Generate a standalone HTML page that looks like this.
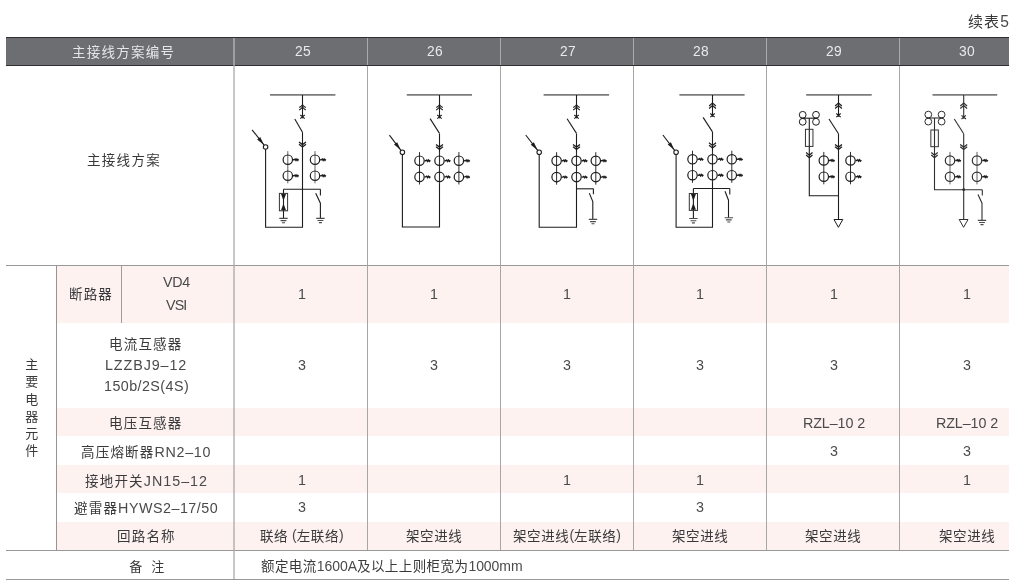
<!DOCTYPE html>
<html lang="zh-CN"><head><meta charset="utf-8"><title>续表5 主接线方案</title>
<style>
html,body{margin:0;padding:0;background:#fff}
body{box-sizing:border-box;width:1014px;height:581px;padding:37px 0 0 6px;position:relative;overflow:hidden;font-family:"Liberation Sans","Noto Sans CJK SC",sans-serif;color:#414042}
table{width:1003px;margin:0;border-collapse:collapse;table-layout:fixed;border-spacing:0}
td,th{padding:0;border:0;font-weight:normal}
tr.hdr th{background:#6d6e71;box-shadow:inset 0 1px 0 #2f2f31, inset 0 -1px 0 #2f2f31}
td.p{background:#fdf2f0}
.t{position:absolute;white-space:nowrap;line-height:16px;height:16px;font-size:14.3px;color:#4a4a4c;will-change:transform}
.t.w{color:#e9e9eb}
.g{display:inline-block;overflow:visible;color:#39393b;font-size:13.5px;white-space:nowrap;font-family:"Liberation Sans","Noto Sans CJK SC",sans-serif}
.c{position:relative}
.t.v{line-height:0}
.t.w .g{color:#e6e6e8}
.dg{position:absolute;overflow:visible}
.ln{position:absolute;background:#989899}
.lv{position:absolute;background:#a6a6a8;width:1px}
caption{display:none}
</style></head><body>
<span class="t cap" style="left:967.60px;top:14.00px"><span class="c"><span class="g" style="width:32.2px;font-size:15px;letter-spacing:1.1px">续表</span></span><span style="font-size:15.6px;letter-spacing:0.0px">5</span></span><table><colgroup><col style="width:51px"><col style="width:65px"><col style="width:112px"><col style="width:133px"><col style="width:133px"><col style="width:133px"><col style="width:133px"><col style="width:133px"><col style="width:110px"></colgroup>
<tr class="hdr" style="height:29px"><th colspan="3"><span class="t w" style="left:72.00px;top:43.70px"><span class="c"><span class="g" style="width:103.25px;letter-spacing:1.25px">主接线方案编号</span></span></span></th><th><span class="t w" style="left:294.63px;top:43.20px"><span style="font-size:13.8px;letter-spacing:0.3px">25</span></span></th><th><span class="t w" style="left:426.53px;top:43.20px"><span style="font-size:13.8px;letter-spacing:0.3px">26</span></span></th><th><span class="t w" style="left:559.63px;top:43.20px"><span style="font-size:13.8px;letter-spacing:0.3px">27</span></span></th><th><span class="t w" style="left:692.53px;top:43.20px"><span style="font-size:13.8px;letter-spacing:0.3px">28</span></span></th><th><span class="t w" style="left:825.93px;top:43.20px"><span style="font-size:13.8px;letter-spacing:0.3px">29</span></span></th><th><span class="t w" style="left:959.23px;top:43.20px"><span style="font-size:13.8px;letter-spacing:0.3px">30</span></span></th></tr>
<tr class="dia" style="height:200px"><td colspan="3"><span class="t" style="left:86.90px;top:152.10px"><span class="c"><span class="g" style="width:74px;letter-spacing:1.3px">主接线方案</span></span></span></td><td><svg class="dg" style="left:234px;top:66px" width="133" height="199" viewBox="234 66 133 199" role="img" aria-label="主接线方案 25"><path d="M270 94.8H335.4" stroke="#7c7c7e" stroke-width="1.7" fill="none" /><path d="M302.5 95V118.3" stroke="#1d1d1f" stroke-width="1.1" fill="none" /><path d="M299.2 107.5Q301.3 106.39999999999999 302.5 104.8Q303.7 106.39999999999999 305.8 107.5M299.2 109.89999999999999Q301.3 108.8 302.5 107.2Q303.7 108.8 305.8 109.89999999999999" stroke="#1d1d1f" stroke-width="1.15" fill="none" /><path d="M300.3 115.0L304.7 118.6M304.7 115.0L300.3 118.6" stroke="#1d1d1f" stroke-width="1.15" fill="none" /><path d="M294.8 118.9L302.5 132.3" stroke="#1d1d1f" stroke-width="1.1" fill="none" /><path d="M299.0 141.9L302.5 144.6L306.0 141.9M299.0 144.3L302.5 147.0L306.0 144.3" stroke="#1d1d1f" stroke-width="1.25" fill="none" /><path d="M302.5 132.3V227.2H265.6V149.1" stroke="#1d1d1f" stroke-width="1.1" fill="none" /><path d="M252.1 129.8L264.30 145.35" stroke="#1d1d1f" stroke-width="1.1" fill="none" /><path d="M263.81 144.72L257.11 139.42L260.26 136.95Z" fill="#1d1d1f"/><circle cx="265.6" cy="147.0" r="2.25" stroke="#1d1d1f" stroke-width="1.1" fill="#fff"/><path d="M287.8 151.1V183.29999999999998" stroke="#626264" stroke-width="1.0" fill="none" /><circle cx="287.8" cy="159.7" r="4.7" stroke="#1d1d1f" stroke-width="1.2" fill="none"/><path d="M293.0 159.7h1.2l0.9 -0.7l0.9 1.4l0.9 -1.4l0.9 1.3l0.8 -1" stroke="#1d1d1f" stroke-width="1.4" fill="none" /><circle cx="287.8" cy="175.7" r="4.7" stroke="#1d1d1f" stroke-width="1.2" fill="none"/><path d="M293.0 175.7h1.2l0.9 -0.7l0.9 1.4l0.9 -1.4l0.9 1.3l0.8 -1" stroke="#1d1d1f" stroke-width="1.4" fill="none" /><path d="M315.0 151.1V183.29999999999998" stroke="#626264" stroke-width="1.0" fill="none" /><circle cx="315.0" cy="159.7" r="4.7" stroke="#1d1d1f" stroke-width="1.2" fill="none"/><path d="M320.2 159.7h1.2l0.9 -0.7l0.9 1.4l0.9 -1.4l0.9 1.3l0.8 -1" stroke="#1d1d1f" stroke-width="1.4" fill="none" /><circle cx="315.0" cy="175.7" r="4.7" stroke="#1d1d1f" stroke-width="1.2" fill="none"/><path d="M320.2 175.7h1.2l0.9 -0.7l0.9 1.4l0.9 -1.4l0.9 1.3l0.8 -1" stroke="#1d1d1f" stroke-width="1.4" fill="none" /><path d="M283.5 189.2H320.5" stroke="#1d1d1f" stroke-width="1.1" fill="none" /><path d="M283.5 189.2V218.4" stroke="#1d1d1f" stroke-width="1.1" fill="none" /><rect x="279.4" y="193.4" width="8.2" height="17.4" stroke="#333" stroke-width="1" fill="none"/><path d="M281.0 194.0H286.0L283.5 200.8ZM281.0 210.20000000000002H286.0L283.5 203.4Z" fill="#1d1d1f"/><path d="M279.3 218.4H287.7M280.6 220.6H286.4M282.0 222.70000000000002H285.0" stroke="#4a4a4c" stroke-width="1.15" fill="none" /><path d="M320.4 189.2V195.5" stroke="#1d1d1f" stroke-width="1.1" fill="none" /><path d="M315.7 193.3L320.4 203.2V218.3" stroke="#1d1d1f" stroke-width="1.1" fill="none" /><path d="M316.2 218.3H324.59999999999997M317.5 220.5H323.29999999999995M318.9 222.60000000000002H321.9" stroke="#4a4a4c" stroke-width="1.15" fill="none" /></svg></td><td><svg class="dg" style="left:367px;top:66px" width="133" height="199" viewBox="367 66 133 199" role="img" aria-label="主接线方案 26"><path d="M406.8 94.8H472" stroke="#7c7c7e" stroke-width="1.7" fill="none" /><path d="M439.5 95V118.3" stroke="#1d1d1f" stroke-width="1.1" fill="none" /><path d="M436.2 107.5Q438.3 106.39999999999999 439.5 104.8Q440.7 106.39999999999999 442.8 107.5M436.2 109.89999999999999Q438.3 108.8 439.5 107.2Q440.7 108.8 442.8 109.89999999999999" stroke="#1d1d1f" stroke-width="1.15" fill="none" /><path d="M437.3 115.0L441.7 118.6M441.7 115.0L437.3 118.6" stroke="#1d1d1f" stroke-width="1.15" fill="none" /><path d="M430.1 118.6L439.5 133.4" stroke="#1d1d1f" stroke-width="1.1" fill="none" /><path d="M436.0 144.4L439.5 147.1L443.0 144.4M436.0 146.8L439.5 149.5L443.0 146.8" stroke="#1d1d1f" stroke-width="1.25" fill="none" /><path d="M439.5 133.4V227H402.4V154.4" stroke="#1d1d1f" stroke-width="1.1" fill="none" /><path d="M389.4 135.2L401.13 150.63" stroke="#1d1d1f" stroke-width="1.1" fill="none" /><path d="M400.64 149.99L394.03 144.59L397.21 142.17Z" fill="#1d1d1f"/><circle cx="402.4" cy="152.3" r="2.25" stroke="#1d1d1f" stroke-width="1.1" fill="#fff"/><path d="M419.5 152.1V184.5" stroke="#2e2e30" stroke-width="1.0" fill="none" /><circle cx="419.5" cy="160.7" r="4.7" stroke="#1d1d1f" stroke-width="1.2" fill="none"/><path d="M424.7 160.7h1.2l0.9 -0.7l0.9 1.4l0.9 -1.4l0.9 1.3l0.8 -1" stroke="#1d1d1f" stroke-width="1.4" fill="none" /><circle cx="419.5" cy="176.9" r="4.7" stroke="#1d1d1f" stroke-width="1.2" fill="none"/><path d="M424.7 176.9h1.2l0.9 -0.7l0.9 1.4l0.9 -1.4l0.9 1.3l0.8 -1" stroke="#1d1d1f" stroke-width="1.4" fill="none" /><path d="M439.5 152.1V184.5" stroke="#2e2e30" stroke-width="1.0" fill="none" /><circle cx="439.5" cy="160.7" r="4.7" stroke="#1d1d1f" stroke-width="1.2" fill="none"/><path d="M444.7 160.7h1.2l0.9 -0.7l0.9 1.4l0.9 -1.4l0.9 1.3l0.8 -1" stroke="#1d1d1f" stroke-width="1.4" fill="none" /><circle cx="439.5" cy="176.9" r="4.7" stroke="#1d1d1f" stroke-width="1.2" fill="none"/><path d="M444.7 176.9h1.2l0.9 -0.7l0.9 1.4l0.9 -1.4l0.9 1.3l0.8 -1" stroke="#1d1d1f" stroke-width="1.4" fill="none" /><path d="M458.9 152.1V184.5" stroke="#2e2e30" stroke-width="1.0" fill="none" /><circle cx="458.9" cy="160.7" r="4.7" stroke="#1d1d1f" stroke-width="1.2" fill="none"/><path d="M464.09999999999997 160.7h1.2l0.9 -0.7l0.9 1.4l0.9 -1.4l0.9 1.3l0.8 -1" stroke="#1d1d1f" stroke-width="1.4" fill="none" /><circle cx="458.9" cy="176.9" r="4.7" stroke="#1d1d1f" stroke-width="1.2" fill="none"/><path d="M464.09999999999997 176.9h1.2l0.9 -0.7l0.9 1.4l0.9 -1.4l0.9 1.3l0.8 -1" stroke="#1d1d1f" stroke-width="1.4" fill="none" /></svg></td><td><svg class="dg" style="left:500px;top:66px" width="133" height="199" viewBox="500 66 133 199" role="img" aria-label="主接线方案 27"><path d="M543.6 94.8H609.1" stroke="#7c7c7e" stroke-width="1.7" fill="none" /><path d="M576.5 95V118.3" stroke="#1d1d1f" stroke-width="1.1" fill="none" /><path d="M573.2 107.5Q575.3 106.39999999999999 576.5 104.8Q577.7 106.39999999999999 579.8 107.5M573.2 109.89999999999999Q575.3 108.8 576.5 107.2Q577.7 108.8 579.8 109.89999999999999" stroke="#1d1d1f" stroke-width="1.15" fill="none" /><path d="M574.3 115.0L578.7 118.6M578.7 115.0L574.3 118.6" stroke="#1d1d1f" stroke-width="1.15" fill="none" /><path d="M567.1 118.8L576.5 133.4" stroke="#1d1d1f" stroke-width="1.1" fill="none" /><path d="M573.0 144.4L576.5 147.1L580.0 144.4M573.0 146.8L576.5 149.5L580.0 146.8" stroke="#1d1d1f" stroke-width="1.25" fill="none" /><path d="M576.5 133.4V227.2H539.2V154.4" stroke="#1d1d1f" stroke-width="1.1" fill="none" /><path d="M525.7 135.0L537.91 150.64" stroke="#1d1d1f" stroke-width="1.1" fill="none" /><path d="M537.42 150.01L530.73 144.70L533.89 142.24Z" fill="#1d1d1f"/><circle cx="539.2" cy="152.3" r="2.25" stroke="#1d1d1f" stroke-width="1.1" fill="#fff"/><path d="M556.6 152.20000000000002V184.7" stroke="#2e2e30" stroke-width="1.0" fill="none" /><circle cx="556.6" cy="160.8" r="4.7" stroke="#1d1d1f" stroke-width="1.2" fill="none"/><path d="M561.8000000000001 160.8h1.2l0.9 -0.7l0.9 1.4l0.9 -1.4l0.9 1.3l0.8 -1" stroke="#1d1d1f" stroke-width="1.4" fill="none" /><circle cx="556.6" cy="177.1" r="4.7" stroke="#1d1d1f" stroke-width="1.2" fill="none"/><path d="M561.8000000000001 177.1h1.2l0.9 -0.7l0.9 1.4l0.9 -1.4l0.9 1.3l0.8 -1" stroke="#1d1d1f" stroke-width="1.4" fill="none" /><path d="M576.5 152.20000000000002V184.7" stroke="#2e2e30" stroke-width="1.0" fill="none" /><circle cx="576.5" cy="160.8" r="4.7" stroke="#1d1d1f" stroke-width="1.2" fill="none"/><path d="M581.7 160.8h1.2l0.9 -0.7l0.9 1.4l0.9 -1.4l0.9 1.3l0.8 -1" stroke="#1d1d1f" stroke-width="1.4" fill="none" /><circle cx="576.5" cy="177.1" r="4.7" stroke="#1d1d1f" stroke-width="1.2" fill="none"/><path d="M581.7 177.1h1.2l0.9 -0.7l0.9 1.4l0.9 -1.4l0.9 1.3l0.8 -1" stroke="#1d1d1f" stroke-width="1.4" fill="none" /><path d="M595.8 152.20000000000002V184.7" stroke="#2e2e30" stroke-width="1.0" fill="none" /><circle cx="595.8" cy="160.8" r="4.7" stroke="#1d1d1f" stroke-width="1.2" fill="none"/><path d="M601.0 160.8h1.2l0.9 -0.7l0.9 1.4l0.9 -1.4l0.9 1.3l0.8 -1" stroke="#1d1d1f" stroke-width="1.4" fill="none" /><circle cx="595.8" cy="177.1" r="4.7" stroke="#1d1d1f" stroke-width="1.2" fill="none"/><path d="M601.0 177.1h1.2l0.9 -0.7l0.9 1.4l0.9 -1.4l0.9 1.3l0.8 -1" stroke="#1d1d1f" stroke-width="1.4" fill="none" /><path d="M576.5 188.8H593.5" stroke="#1d1d1f" stroke-width="1.1" fill="none" /><path d="M593.4 188.8V194.2" stroke="#1d1d1f" stroke-width="1.1" fill="none" /><path d="M589.3 193.1L592.8 201.5V219.4" stroke="#1d1d1f" stroke-width="1.1" fill="none" /><path d="M588.8 219.4H597.2M590.1 221.6H595.9M591.5 223.70000000000002H594.5" stroke="#4a4a4c" stroke-width="1.15" fill="none" /></svg></td><td><svg class="dg" style="left:633px;top:66px" width="133" height="199" viewBox="633 66 133 199" role="img" aria-label="主接线方案 28"><path d="M679.4 94.8H744.6" stroke="#7c7c7e" stroke-width="1.7" fill="none" /><path d="M712.5 95V116.8" stroke="#1d1d1f" stroke-width="1.1" fill="none" /><path d="M709.1 106.0L712.5 103.0L715.9 106.0M709.1 108.5L712.5 105.5L715.9 108.5" stroke="#1d1d1f" stroke-width="1.15" fill="none" /><path d="M710.3 113.5L714.7 117.1M714.7 113.5L710.3 117.1" stroke="#1d1d1f" stroke-width="1.15" fill="none" /><path d="M703.1 117.4L712.5 131.9" stroke="#1d1d1f" stroke-width="1.1" fill="none" /><path d="M709.0 142.8L712.5 145.5L716.0 142.8M709.0 145.20000000000002L712.5 147.9L716.0 145.20000000000002" stroke="#1d1d1f" stroke-width="1.25" fill="none" /><path d="M712.5 131.9V227.2H676.1V154.4" stroke="#1d1d1f" stroke-width="1.1" fill="none" /><path d="M662.9 135.0L674.83 150.63" stroke="#1d1d1f" stroke-width="1.1" fill="none" /><path d="M674.34 149.99L667.72 144.61L670.90 142.18Z" fill="#1d1d1f"/><circle cx="676.1" cy="152.3" r="2.25" stroke="#1d1d1f" stroke-width="1.1" fill="#fff"/><path d="M692.5 150.70000000000002V182.79999999999998" stroke="#2e2e30" stroke-width="1.0" fill="none" /><circle cx="692.5" cy="159.3" r="4.7" stroke="#1d1d1f" stroke-width="1.2" fill="none"/><path d="M697.7 159.3h1.2l0.9 -0.7l0.9 1.4l0.9 -1.4l0.9 1.3l0.8 -1" stroke="#1d1d1f" stroke-width="1.4" fill="none" /><circle cx="692.5" cy="175.2" r="4.7" stroke="#1d1d1f" stroke-width="1.2" fill="none"/><path d="M697.7 175.2h1.2l0.9 -0.7l0.9 1.4l0.9 -1.4l0.9 1.3l0.8 -1" stroke="#1d1d1f" stroke-width="1.4" fill="none" /><path d="M712.5 150.70000000000002V182.79999999999998" stroke="#2e2e30" stroke-width="1.0" fill="none" /><circle cx="712.5" cy="159.3" r="4.7" stroke="#1d1d1f" stroke-width="1.2" fill="none"/><path d="M717.7 159.3h1.2l0.9 -0.7l0.9 1.4l0.9 -1.4l0.9 1.3l0.8 -1" stroke="#1d1d1f" stroke-width="1.4" fill="none" /><circle cx="712.5" cy="175.2" r="4.7" stroke="#1d1d1f" stroke-width="1.2" fill="none"/><path d="M717.7 175.2h1.2l0.9 -0.7l0.9 1.4l0.9 -1.4l0.9 1.3l0.8 -1" stroke="#1d1d1f" stroke-width="1.4" fill="none" /><path d="M731.8 150.70000000000002V182.79999999999998" stroke="#2e2e30" stroke-width="1.0" fill="none" /><circle cx="731.8" cy="159.3" r="4.7" stroke="#1d1d1f" stroke-width="1.2" fill="none"/><path d="M737.0 159.3h1.2l0.9 -0.7l0.9 1.4l0.9 -1.4l0.9 1.3l0.8 -1" stroke="#1d1d1f" stroke-width="1.4" fill="none" /><circle cx="731.8" cy="175.2" r="4.7" stroke="#1d1d1f" stroke-width="1.2" fill="none"/><path d="M737.0 175.2h1.2l0.9 -0.7l0.9 1.4l0.9 -1.4l0.9 1.3l0.8 -1" stroke="#1d1d1f" stroke-width="1.4" fill="none" /><path d="M693.4 188.5H729.8" stroke="#1d1d1f" stroke-width="1.1" fill="none" /><path d="M693.4 188.5V218.5" stroke="#1d1d1f" stroke-width="1.1" fill="none" /><rect x="689.3" y="193.5" width="8.2" height="16.9" stroke="#333" stroke-width="1" fill="none"/><path d="M690.9 194.1H695.9L693.4 200.9ZM690.9 209.8H695.9L693.4 203.0Z" fill="#1d1d1f"/><path d="M689.1999999999999 218.5H697.6M690.5 220.7H696.3M691.9 222.8H694.9" stroke="#4a4a4c" stroke-width="1.15" fill="none" /><path d="M729.8 188.5V194.6" stroke="#1d1d1f" stroke-width="1.1" fill="none" /><path d="M725.0 191.2L728.5 200.2V217.7" stroke="#1d1d1f" stroke-width="1.1" fill="none" /><path d="M724.5999999999999 217.7H733.0M725.9 219.89999999999998H731.6999999999999M727.3 222.0H730.3" stroke="#4a4a4c" stroke-width="1.15" fill="none" /></svg></td><td><svg class="dg" style="left:766px;top:66px" width="133" height="199" viewBox="766 66 133 199" role="img" aria-label="主接线方案 29"><path d="M806.2 94.8H871.7" stroke="#7c7c7e" stroke-width="1.7" fill="none" /><path d="M838.5 95V116.8" stroke="#1d1d1f" stroke-width="1.1" fill="none" /><path d="M835.1 106.0L838.5 103.0L841.9 106.0M835.1 108.5L838.5 105.5L841.9 108.5" stroke="#1d1d1f" stroke-width="1.15" fill="none" /><path d="M836.3 113.5L840.7 117.1M840.7 113.5L836.3 117.1" stroke="#1d1d1f" stroke-width="1.15" fill="none" /><path d="M829.0 119.0L838.5 133.7" stroke="#1d1d1f" stroke-width="1.1" fill="none" /><path d="M835.0 144.4L838.5 147.1L842.0 144.4M835.0 146.8L838.5 149.5L842.0 146.8" stroke="#1d1d1f" stroke-width="1.25" fill="none" /><path d="M838.5 133.7V219.5" stroke="#1d1d1f" stroke-width="1.1" fill="none" /><circle cx="802.7" cy="114.8" r="3.4" stroke="#1d1d1f" stroke-width="1" fill="none"/><circle cx="802.7" cy="121.8" r="3.4" stroke="#1d1d1f" stroke-width="1" fill="none"/><circle cx="816.0" cy="114.8" r="3.4" stroke="#1d1d1f" stroke-width="1" fill="none"/><circle cx="816.0" cy="121.8" r="3.4" stroke="#1d1d1f" stroke-width="1" fill="none"/><path d="M801.1 118.2H817.6" stroke="#1d1d1f" stroke-width="1.1" fill="none" /><path d="M809.3 118.2V195.8H838.5" stroke="#1d1d1f" stroke-width="1.1" fill="none" /><rect x="805.45" y="129.3" width="7.5" height="17.1" stroke="#333" stroke-width="1" fill="#fff" fill-opacity="0"/><path d="M806.0999999999999 152.6L809.3 155.29999999999998L812.5 152.6M806.0999999999999 155.0L809.3 157.7L812.5 155.0" stroke="#1d1d1f" stroke-width="1.25" fill="none" /><path d="M823.8 151.9V184.29999999999998" stroke="#2e2e30" stroke-width="1.0" fill="none" /><circle cx="823.8" cy="160.5" r="4.7" stroke="#1d1d1f" stroke-width="1.2" fill="none"/><path d="M829.0 160.5h1.2l0.9 -0.7l0.9 1.4l0.9 -1.4l0.9 1.3l0.8 -1" stroke="#1d1d1f" stroke-width="1.4" fill="none" /><circle cx="823.8" cy="176.7" r="4.7" stroke="#1d1d1f" stroke-width="1.2" fill="none"/><path d="M829.0 176.7h1.2l0.9 -0.7l0.9 1.4l0.9 -1.4l0.9 1.3l0.8 -1" stroke="#1d1d1f" stroke-width="1.4" fill="none" /><path d="M850.5 151.9V184.29999999999998" stroke="#2e2e30" stroke-width="1.0" fill="none" /><circle cx="850.5" cy="160.5" r="4.7" stroke="#1d1d1f" stroke-width="1.2" fill="none"/><path d="M855.7 160.5h1.2l0.9 -0.7l0.9 1.4l0.9 -1.4l0.9 1.3l0.8 -1" stroke="#1d1d1f" stroke-width="1.4" fill="none" /><circle cx="850.5" cy="176.7" r="4.7" stroke="#1d1d1f" stroke-width="1.2" fill="none"/><path d="M855.7 176.7h1.2l0.9 -0.7l0.9 1.4l0.9 -1.4l0.9 1.3l0.8 -1" stroke="#1d1d1f" stroke-width="1.4" fill="none" /><path d="M834.0 219.5H842.8L838.4 227.3Z" stroke="#1d1d1f" stroke-width="1" fill="none"/></svg></td><td><svg class="dg" style="left:899px;top:66px" width="110" height="199" viewBox="899 66 110 199" role="img" aria-label="主接线方案 30"><path d="M932.5 94.8H997.2" stroke="#7c7c7e" stroke-width="1.7" fill="none" /><path d="M963.7 95V118.7" stroke="#303032" stroke-width="1.1" fill="none" /><path d="M960.3000000000001 106.0L963.7 103.0L967.1 106.0M960.3000000000001 108.5L963.7 105.5L967.1 108.5" stroke="#303032" stroke-width="1.15" fill="none" /><path d="M961.5 115.4L965.9000000000001 119.0M965.9000000000001 115.4L961.5 119.0" stroke="#303032" stroke-width="1.15" fill="none" /><path d="M954.3 119.0L963.7 133.7" stroke="#303032" stroke-width="1.1" fill="none" /><path d="M960.2 144.4L963.7 147.1L967.2 144.4M960.2 146.8L963.7 149.5L967.2 146.8" stroke="#303032" stroke-width="1.25" fill="none" /><path d="M963.7 133.7V219.5" stroke="#303032" stroke-width="1.1" fill="none" /><circle cx="928.3" cy="114.6" r="3.4" stroke="#303032" stroke-width="1" fill="none"/><circle cx="928.3" cy="121.6" r="3.4" stroke="#303032" stroke-width="1" fill="none"/><circle cx="941.6" cy="114.6" r="3.4" stroke="#303032" stroke-width="1" fill="none"/><circle cx="941.6" cy="121.6" r="3.4" stroke="#303032" stroke-width="1" fill="none"/><path d="M926.6999999999999 118.0H943.2" stroke="#303032" stroke-width="1.1" fill="none" /><path d="M934.5 118V189.7H982.3" stroke="#303032" stroke-width="1.1" fill="none" /><rect x="930.85" y="130.0" width="7.5" height="16.7" stroke="#333" stroke-width="1" fill="#fff" fill-opacity="0"/><path d="M931.3 152.6L934.5 155.29999999999998L937.7 152.6M931.3 155.0L934.5 157.7L937.7 155.0" stroke="#303032" stroke-width="1.25" fill="none" /><path d="M950.0 151.9V184.4" stroke="#626264" stroke-width="1.0" fill="none" /><circle cx="950.0" cy="160.5" r="4.7" stroke="#303032" stroke-width="1.2" fill="none"/><path d="M955.2 160.5h1.2l0.9 -0.7l0.9 1.4l0.9 -1.4l0.9 1.3l0.8 -1" stroke="#1d1d1f" stroke-width="1.4" fill="none" /><circle cx="950.0" cy="176.8" r="4.7" stroke="#303032" stroke-width="1.2" fill="none"/><path d="M955.2 176.8h1.2l0.9 -0.7l0.9 1.4l0.9 -1.4l0.9 1.3l0.8 -1" stroke="#1d1d1f" stroke-width="1.4" fill="none" /><path d="M977.0 151.9V184.4" stroke="#626264" stroke-width="1.0" fill="none" /><circle cx="977.0" cy="160.5" r="4.7" stroke="#303032" stroke-width="1.2" fill="none"/><path d="M982.2 160.5h1.2l0.9 -0.7l0.9 1.4l0.9 -1.4l0.9 1.3l0.8 -1" stroke="#1d1d1f" stroke-width="1.4" fill="none" /><circle cx="977.0" cy="176.8" r="4.7" stroke="#303032" stroke-width="1.2" fill="none"/><path d="M982.2 176.8h1.2l0.9 -0.7l0.9 1.4l0.9 -1.4l0.9 1.3l0.8 -1" stroke="#1d1d1f" stroke-width="1.4" fill="none" /><circle cx="963.7" cy="189.7" r="1.4" fill="#303032"/><path d="M982.3 189.7V195.5" stroke="#303032" stroke-width="1.1" fill="none" /><path d="M978.0 194.6L982.0 203.2V220.3" stroke="#303032" stroke-width="1.1" fill="none" /><path d="M977.8 220.3H986.2M979.1 222.5H984.9M980.5 224.60000000000002H983.5" stroke="#4a4a4c" stroke-width="1.15" fill="none" /><path d="M959.2 219.5H968.0L963.6 227.3Z" stroke="#303032" stroke-width="1" fill="none"/></svg></td></tr>
<tr class="r1" style="height:57px"><td rowspan="7"><span class="t v" style="left:24.60px;top:356.30px;height:103.5px"><span class="g" style="display:block;width:13.6px;font-size:13px;line-height:17.25px;text-align:center;white-space:normal">主<br>要<br>电<br>器<br>元<br>件</span></span></td><td class="p"><span class="t" style="left:69.20px;top:285.90px"><span class="c"><span class="g" style="width:43.95px;letter-spacing:1.15px">断路器</span></span></span></td><td class="p"><span class="t" style="left:163.00px;top:274.20px"><span style="font-size:14.3px;letter-spacing:-0.3px">VD4</span></span><span class="t" style="left:166.20px;top:297.40px"><span style="font-size:14.3px;letter-spacing:-0.9px">VSI</span></span></td><td class="p"><span class="t" style="left:298.32px;top:286.00px"><span style="font-size:14.3px;letter-spacing:0.0px">1</span></span></td><td class="p"><span class="t" style="left:430.22px;top:286.00px"><span style="font-size:14.3px;letter-spacing:0.0px">1</span></span></td><td class="p"><span class="t" style="left:563.32px;top:286.00px"><span style="font-size:14.3px;letter-spacing:0.0px">1</span></span></td><td class="p"><span class="t" style="left:696.22px;top:286.00px"><span style="font-size:14.3px;letter-spacing:0.0px">1</span></span></td><td class="p"><span class="t" style="left:829.62px;top:286.00px"><span style="font-size:14.3px;letter-spacing:0.0px">1</span></span></td><td class="p"><span class="t" style="left:962.92px;top:286.00px"><span style="font-size:14.3px;letter-spacing:0.0px">1</span></span></td></tr>
<tr class="r2" style="height:85px"><td colspan="2"><span class="t" style="left:108.80px;top:335.80px"><span class="c"><span class="g" style="width:73.5px;letter-spacing:1.2px">电流互感器</span></span></span><span class="t" style="left:105.40px;top:356.80px"><span style="font-size:14.3px;letter-spacing:0.92px">LZZBJ9–12</span></span><span class="t" style="left:104.40px;top:378.00px"><span style="font-size:14.3px;letter-spacing:0.44px">150b/2S(4S)</span></span></td><td><span class="t" style="left:298.32px;top:357.40px"><span style="font-size:14.3px;letter-spacing:0.0px">3</span></span></td><td><span class="t" style="left:430.22px;top:357.40px"><span style="font-size:14.3px;letter-spacing:0.0px">3</span></span></td><td><span class="t" style="left:563.32px;top:357.40px"><span style="font-size:14.3px;letter-spacing:0.0px">3</span></span></td><td><span class="t" style="left:696.22px;top:357.40px"><span style="font-size:14.3px;letter-spacing:0.0px">3</span></span></td><td><span class="t" style="left:829.62px;top:357.40px"><span style="font-size:14.3px;letter-spacing:0.0px">3</span></span></td><td><span class="t" style="left:962.92px;top:357.40px"><span style="font-size:14.3px;letter-spacing:0.0px">3</span></span></td></tr>
<tr class="r3" style="height:28px"><td class="p" colspan="2"><span class="t" style="left:108.80px;top:414.70px"><span class="c"><span class="g" style="width:73.5px;letter-spacing:1.2px">电压互感器</span></span></span></td><td class="p"></td><td class="p"></td><td class="p"></td><td class="p"></td><td class="p"><span class="t" style="left:802.60px;top:415.10px"><span style="font-size:14.3px;letter-spacing:-0.1px">RZL–10&nbsp;2</span></span></td><td class="p"><span class="t" style="left:935.90px;top:415.10px"><span style="font-size:14.3px;letter-spacing:-0.1px">RZL–10&nbsp;2</span></span></td></tr>
<tr class="r4" style="height:29px"><td colspan="2"><span class="t" style="left:81.00px;top:444.00px"><span class="c"><span class="g" style="width:73.5px;letter-spacing:1.2px">高压熔断器</span></span><span style="font-size:14.3px;letter-spacing:0.7px">RN2–10</span></span></td><td></td><td></td><td></td><td></td><td><span class="t" style="left:829.62px;top:443.10px"><span style="font-size:14.3px;letter-spacing:0.0px">3</span></span></td><td><span class="t" style="left:962.92px;top:443.10px"><span style="font-size:14.3px;letter-spacing:0.0px">3</span></span></td></tr>
<tr class="r5" style="height:28px"><td class="p" colspan="2"><span class="t" style="left:85.40px;top:472.60px"><span class="c"><span class="g" style="width:58.8px;letter-spacing:1.2px">接地开关</span></span><span style="font-size:14.3px;letter-spacing:1.0px">JN15–12</span></span></td><td class="p"><span class="t" style="left:298.32px;top:471.90px"><span style="font-size:14.3px;letter-spacing:0.0px">1</span></span></td><td class="p"></td><td class="p"><span class="t" style="left:563.32px;top:471.90px"><span style="font-size:14.3px;letter-spacing:0.0px">1</span></span></td><td class="p"><span class="t" style="left:696.22px;top:471.90px"><span style="font-size:14.3px;letter-spacing:0.0px">1</span></span></td><td class="p"></td><td class="p"><span class="t" style="left:962.92px;top:471.90px"><span style="font-size:14.3px;letter-spacing:0.0px">1</span></span></td></tr>
<tr class="r6" style="height:29px"><td colspan="2"><span class="t" style="left:74.00px;top:500.40px"><span class="c"><span class="g" style="width:44.1px;letter-spacing:1.2px">避雷器</span></span><span style="font-size:14.3px;letter-spacing:0.5px">HYWS2–17/50</span></span></td><td><span class="t" style="left:298.32px;top:498.50px"><span style="font-size:14.3px;letter-spacing:0.0px">3</span></span></td><td></td><td></td><td><span class="t" style="left:696.22px;top:498.50px"><span style="font-size:14.3px;letter-spacing:0.0px">3</span></span></td><td></td><td></td></tr>
<tr class="r7" style="height:29px"><td class="p" colspan="2"><span class="t" style="left:117.30px;top:527.70px"><span class="c"><span class="g" style="width:58.8px;letter-spacing:1.2px">回路名称</span></span></span></td><td class="p"><span class="t" style="left:260.44px;top:527.80px"><span class="c"><span class="g" style="width:28.2px;letter-spacing:0.6px">联络</span></span><span style="font-size:14.0px;letter-spacing:0.0px;position:relative;top:-1.2px">&nbsp;(</span><span class="c"><span class="g" style="width:42.3px;letter-spacing:0.6px">左联络</span></span><span style="font-size:14.0px;letter-spacing:0.0px;position:relative;top:-1.2px">)</span></span></td><td class="p"><span class="t" style="left:406.00px;top:527.80px"><span class="c"><span class="g" style="width:56.4px;letter-spacing:0.6px">架空进线</span></span></span></td><td class="p"><span class="t" style="left:513.29px;top:527.80px"><span class="c"><span class="g" style="width:56.4px;letter-spacing:0.6px">架空进线</span></span><span style="font-size:14.0px;letter-spacing:0.0px;position:relative;top:-1.2px">(</span><span class="c"><span class="g" style="width:42.3px;letter-spacing:0.6px">左联络</span></span><span style="font-size:14.0px;letter-spacing:0.0px;position:relative;top:-1.2px">)</span></span></td><td class="p"><span class="t" style="left:672.00px;top:527.80px"><span class="c"><span class="g" style="width:56.4px;letter-spacing:0.6px">架空进线</span></span></span></td><td class="p"><span class="t" style="left:805.40px;top:527.80px"><span class="c"><span class="g" style="width:56.4px;letter-spacing:0.6px">架空进线</span></span></span></td><td class="p"><span class="t" style="left:938.70px;top:527.80px"><span class="c"><span class="g" style="width:56.4px;letter-spacing:0.6px">架空进线</span></span></span></td></tr>
<tr class="note" style="height:29px"><td colspan="3"><span class="t" style="left:129.50px;top:557.70px"><span class="c"><span class="g" style="width:33.3px;font-size:13px;margin-left:-0.8px">备<span style="display:inline-block;width:9px"></span>注</span></span></span></td><td colspan="6"><span class="t" style="left:261.00px;top:557.70px"><span class="c"><span class="g" style="width:55.72px;letter-spacing:0.43px">额定电流</span></span><span style="font-size:14.0px;letter-spacing:-0.05px">1600A</span><span class="c"><span class="g" style="width:111.44px;letter-spacing:0.43px">及以上上则柜宽为</span></span><span style="font-size:14.0px;letter-spacing:-0.05px">1000mm</span></span></td></tr>
</table>
<div class="ln" style="left:6px;top:265px;width:1003px;height:1px"></div><div class="ln" style="left:6px;top:550px;width:1003px;height:1px"></div><div class="ln" style="left:6px;top:579px;width:1003px;height:1px"></div><div class="lv" style="left:56px;top:266px;height:284px;background:#979395"></div><div class="lv" style="left:121px;top:266px;height:57px;background:#a09c9e"></div><div class="lv" style="left:233px;top:38px;height:28px;width:2px;background:rgba(205,205,208,.52)"></div><div class="lv" style="left:233px;top:66px;height:513px;width:2px;background:rgba(165,165,168,.62)"></div><div class="lv" style="left:367px;top:38px;height:27px;background:#a9aaac"></div><div class="lv" style="left:367px;top:66px;height:484px"></div><div class="lv" style="left:500px;top:38px;height:27px;background:#a9aaac"></div><div class="lv" style="left:500px;top:66px;height:484px"></div><div class="lv" style="left:633px;top:38px;height:27px;background:#a9aaac"></div><div class="lv" style="left:633px;top:66px;height:484px"></div><div class="lv" style="left:766px;top:38px;height:27px;background:#a9aaac"></div><div class="lv" style="left:766px;top:66px;height:484px"></div><div class="lv" style="left:899px;top:38px;height:27px;background:#a9aaac"></div><div class="lv" style="left:899px;top:66px;height:484px"></div>
</body></html>
